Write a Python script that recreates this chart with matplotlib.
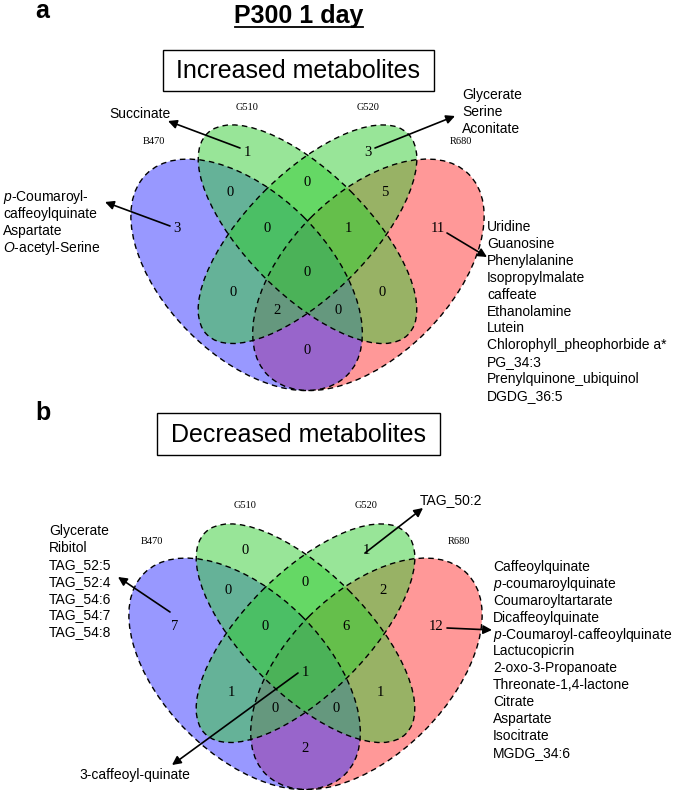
import matplotlib
matplotlib.use("Agg")
import matplotlib.pyplot as plt
from matplotlib.patches import Ellipse, Rectangle

plt.rcParams['font.family'] = ['Liberation Sans', 'DejaVu Sans']
plt.rcParams['mathtext.fontset'] = 'custom'
plt.rcParams['mathtext.rm'] = 'Liberation Sans'
plt.rcParams['mathtext.it'] = 'Liberation Sans:italic'

# ---------------- data ----------------
set_names = ["B470", "G510", "G520", "R680"]
regions = ["B", "G1", "G2", "R", "BG1", "G1G2", "G2R", "BG1G2", "G1G2R",
           "BG1G2R", "BG2", "G1R", "BG2R", "BG1R", "BR"]
increased_counts = [3, 1, 3, 11, 0, 0, 5, 0, 1, 0, 0, 0, 2, 0, 0]
decreased_counts = [7, 0, 1, 12, 0, 0, 2, 0, 6, 1, 1, 1, 0, 0, 2]

inc_B_names = ["$\\it{p}$-Coumaroyl-", "caffeoylquinate", "Aspartate", "$\\it{O}$-acetyl-Serine"]
inc_G1_names = ["Succinate"]
inc_G2_names = ["Glycerate", "Serine", "Aconitate"]
inc_R_names = ["Uridine", "Guanosine", "Phenylalanine", "Isopropylmalate", "caffeate",
               "Ethanolamine", "Lutein", "Chlorophyll_pheophorbide a*", "PG_34:3",
               "Prenylquinone_ubiquinol", "DGDG_36:5"]
dec_B_names = ["Glycerate", "Ribitol", "TAG_52:5", "TAG_52:4", "TAG_54:6", "TAG_54:7", "TAG_54:8"]
dec_G2_names = ["TAG_50:2"]
dec_R_names = ["Caffeoylquinate", "$\\it{p}$-coumaroylquinate", "Coumaroyltartarate",
               "Dicaffeoylquinate", "$\\it{p}$-Coumaroyl-caffeoylquinate", "Lactucopicrin",
               "2-oxo-3-Propanoate", "Threonate-1,4-lactone", "Citrate", "Aspartate",
               "Isocitrate", "MGDG_34:6"]
dec_all_names = ["3-caffeoyl-quinate"]

title = "P300 1 day"
panel_titles = ["Increased metabolites", "Decreased metabolites"]

# ---------------- layout ----------------
W, H = 675, 790
fig = plt.figure(figsize=(W / 100, H / 100), dpi=100)
ax = fig.add_axes([0, 0, 1, 1])
ax.set_xlim(0, W)
ax.set_ylim(H, 0)
ax.axis('off')

U = 406.0
CX = 307.5
TOP = 125.0


def to_px(ux, uy, dx, dy):
    return CX + (ux - 0.5) * U + dx, TOP + (0.839 - uy) * U + dy


# (ux, uy, a, b, angle, color) in VennDiagram-like unit layout
ell_specs = {
    "R680": (0.65, 0.47, 0.35, 0.20, -45, (1.0, 0.2, 0.2)),
    "B470": (0.35, 0.47, 0.35, 0.20, 45, (0.2, 0.2, 1.0)),
    "G510": (0.50, 0.57, 0.35, 0.15, 45, (0.2, 0.8, 0.2)),
    "G520": (0.50, 0.57, 0.35, 0.15, -45, (0.2, 0.8, 0.2)),
}
draw_order = ["R680", "B470", "G510", "G520"]

region_pos = {
    "B": (177, 228), "G1": (247, 152), "G2": (368, 152), "R": (438, 228),
    "BG1": (230, 192), "G1G2": (307.5, 183), "G2R": (385, 192),
    "BG1G2": (267, 228), "G1G2R": (348, 228), "BG1G2R": (307.5, 273),
    "BG2": (233, 293), "G1R": (382, 293), "BG2R": (277, 310),
    "BG1R": (338, 310), "BR": (307.5, 350),
}
setlabel_pos = {"G510": (247, 107), "G520": (368, 107), "B470": (154, 142), "R680": (461, 142)}


def draw_venn(counts, dx, dy):
    for name in draw_order:
        ux, uy, a, b, ang, col = ell_specs[name]
        x, y = to_px(ux, uy, dx, dy)
        ax.add_patch(Ellipse((x, y), 2 * a * U, 2 * b * U, angle=ang,
                             facecolor=col, alpha=0.5, edgecolor='none', zorder=1))
    for name in draw_order:
        ux, uy, a, b, ang, col = ell_specs[name]
        x, y = to_px(ux, uy, dx, dy)
        ax.add_patch(Ellipse((x, y), 2 * a * U, 2 * b * U, angle=ang,
                             facecolor='none', edgecolor='black', lw=1.0,
                             linestyle=(0, (4, 3)), zorder=2))
    for reg, c in zip(regions, counts):
        x, y = region_pos[reg]
        ax.text(x + dx, y + dy, str(c), ha='center', va='center', fontsize=10.5,
                family=['Liberation Serif'], zorder=3)
    for name in set_names:
        x, y = setlabel_pos[name]
        ax.text(x + dx, y + dy, name, ha='center', va='center', fontsize=7.5,
                family=['Liberation Serif'], zorder=3)


def name_list(names, x, y0, step=16.9):
    for i, n in enumerate(names):
        ax.text(x, y0 + i * step + 5, n, ha='left', va='baseline', fontsize=10, zorder=4)


def arrow(tail, head):
    ax.annotate('', xy=head, xytext=tail,
                arrowprops=dict(arrowstyle='-|>', color='black', lw=1.2,
                                mutation_scale=13, shrinkA=0, shrinkB=0), zorder=5)


# title
ax.text(299, 16, title, ha='center', va='center', fontsize=18, fontweight='bold')
ax.plot([235, 363], [26.5, 26.5], color='black', lw=1.3)
ax.text(42, 11, "a", ha='center', va='center', fontsize=18, fontweight='bold')
ax.text(43, 413, "b", ha='center', va='center', fontsize=18, fontweight='bold')

# panel boxes
ax.add_patch(Rectangle((163, 50), 271, 41, facecolor='white', edgecolor='black', lw=1.0))
ax.text(298.5, 71, panel_titles[0], ha='center', va='center', fontsize=18)
ax.add_patch(Rectangle((157, 413), 283, 42, facecolor='white', edgecolor='black', lw=1.0))
ax.text(298.5, 434.5, panel_titles[1], ha='center', va='center', fontsize=18)

# panel a
draw_venn(increased_counts, 0, 0)
ax.text(140, 114, inc_G1_names[0], ha='center', va='center', fontsize=10)
name_list(inc_G2_names, 462, 94)
name_list(inc_B_names, 3, 196)
name_list(inc_R_names, 487, 226)
arrow((240, 148), (168, 121))
arrow((375, 148), (455, 116))
arrow((170, 226), (105, 202))
arrow((447, 233), (487, 257))

# panel b
dxb, dyb = -2, 399
draw_venn(decreased_counts, dxb, dyb)
name_list(dec_B_names, 49, 530)
name_list(dec_R_names, 493, 566)
ax.text(420, 500, dec_G2_names[0], ha='left', va='center', fontsize=10)
ax.text(135, 775, dec_all_names[0], ha='center', va='center', fontsize=10)
arrow((170, 612), (118, 577))
arrow((298, 673), (172, 765))
arrow((365, 553), (423, 508))
arrow((447, 628), (492, 630))

fig.savefig("out.png", dpi=100)
